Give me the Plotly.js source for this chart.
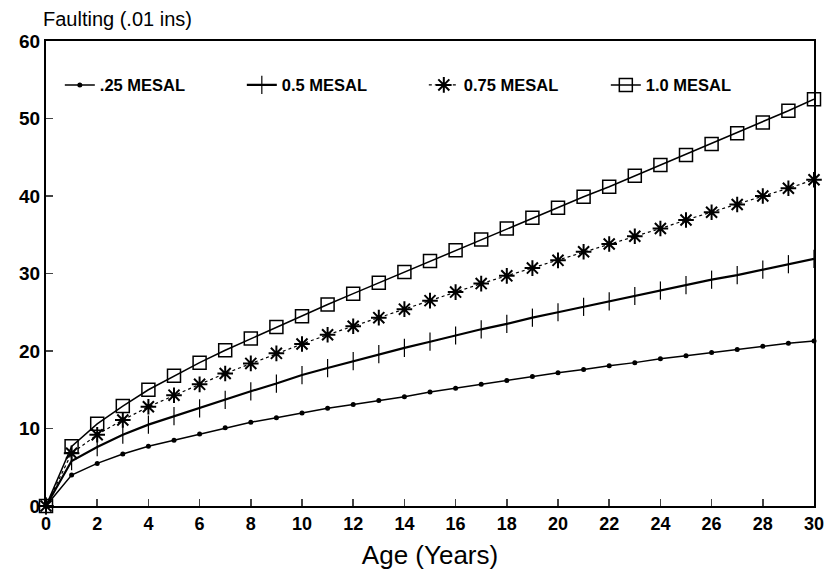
<!DOCTYPE html>
<html>
<head>
<meta charset="utf-8">
<script src="https://cdn.plot.ly/plotly-3.0.1.min.js"></script>
<style>html,body{margin:0;padding:0;background:#fff;}#chart{width:828px;height:577px;}</style>
</head>
<body>
<div id="chart"></div>
<script>
const ages = [0,1,2,3,4,5,6,7,8,9,10,11,12,13,14,15,16,17,18,19,20,21,22,23,24,25,26,27,28,29,30];
const mesal025 = [0,4.0,5.5,6.7,7.7,8.5,9.3,10.1,10.8,11.4,12.0,12.6,13.1,13.6,14.1,14.7,15.2,15.7,16.2,16.7,17.2,17.6,18.1,18.5,19.0,19.4,19.8,20.2,20.6,21.0,21.3];
const mesal05 = [0,5.8,7.6,9.2,10.5,11.6,12.6,13.7,14.8,15.8,16.9,17.8,18.7,19.6,20.4,21.2,22.0,22.8,23.5,24.3,25.0,25.7,26.4,27.1,27.8,28.5,29.2,29.8,30.5,31.2,31.9];
const mesal075 = [0,6.8,9.2,11.1,12.8,14.3,15.7,17.1,18.4,19.7,20.9,22.1,23.2,24.3,25.4,26.5,27.6,28.7,29.7,30.7,31.7,32.8,33.8,34.8,35.8,36.9,37.9,38.9,40.0,41.0,42.1];
const mesal10 = [0,7.7,10.6,12.9,15.0,16.8,18.5,20.1,21.6,23.1,24.5,26.0,27.4,28.8,30.2,31.6,33.0,34.4,35.8,37.2,38.5,39.9,41.2,42.6,44.0,45.3,46.7,48.1,49.5,51.0,52.5];
const seriesNames = ['.25 MESAL','0.5 MESAL','0.75 MESAL','1.0 MESAL'];
const xTicks = [0,2,4,6,8,10,12,14,16,18,20,22,24,26,28,30];
const yTicks = [0,10,20,30,40,50,60];

const font = {family:'Liberation Sans, Arial, sans-serif', color:'#000'};
const traces = [
  {x:ages, y:mesal025, name:seriesNames[0], mode:'lines+markers', cliponaxis:false,
   line:{color:'#000', width:1.5}, marker:{symbol:'circle', size:5, color:'#000'}},
  {x:ages, y:mesal05, name:seriesNames[1], mode:'lines+markers', cliponaxis:false,
   line:{color:'#000', width:2.2}, marker:{symbol:'line-ns', size:13, line:{width:1.2, color:'#000'}}},
  {x:ages, y:mesal075, name:seriesNames[2], mode:'lines+markers', cliponaxis:false,
   line:{color:'#000', width:1.2, dash:'dot'}, marker:{symbol:'asterisk-open', size:13, line:{width:2, color:'#000'}}},
  {x:ages, y:mesal10, name:seriesNames[3], mode:'lines+markers', cliponaxis:false,
   line:{color:'#000', width:1.5}, marker:{symbol:'square-open', size:13, color:'#000', line:{width:1.5, color:'#000'}}}
];

const layout = {
  width:828, height:577,
  margin:{l:46, r:14, t:41, b:71},
  paper_bgcolor:'#fff', plot_bgcolor:'#fff',
  font:font,
  showlegend:true,
  legend:{orientation:'h', x:0.018, y:0.905, xanchor:'left', yanchor:'middle',
    entrywidth:137, entrywidthmode:'pixels', bgcolor:'rgba(0,0,0,0)',
    font:{family:font.family, size:16.5, color:'#000', weight:'bold'}},
  xaxis:{range:[0,30], tickvals:xTicks, ticktext:xTicks.map(String), ticks:'inside', ticklen:7, tickwidth:1.5,
    showline:true, linecolor:'#000', linewidth:2, mirror:true, showgrid:false, zeroline:false,
    tickfont:{family:font.family, size:18, color:'#000', weight:'bold'},
    title:{text:'Age (Years)', font:{family:font.family, size:26, color:'#000'}, standoff:13}},
  yaxis:{range:[0,60], tickvals:yTicks, ticktext:yTicks.map(String), ticks:'inside', ticklen:7, tickwidth:1.5,
    showline:true, linecolor:'#000', linewidth:2, mirror:true, showgrid:false, zeroline:false,
    tickfont:{family:font.family, size:19, color:'#000', weight:'bold'}},
  annotations:[{text:'Faulting (.01 ins)', xref:'paper', yref:'paper', x:-0.006, y:1, xanchor:'left', yanchor:'bottom',
    yshift:9, showarrow:false, font:{family:font.family, size:20, color:'#000'}}]
};
Plotly.newPlot('chart', traces, layout, {staticPlot:true, displayModeBar:false});
</script>
</body>
</html>
